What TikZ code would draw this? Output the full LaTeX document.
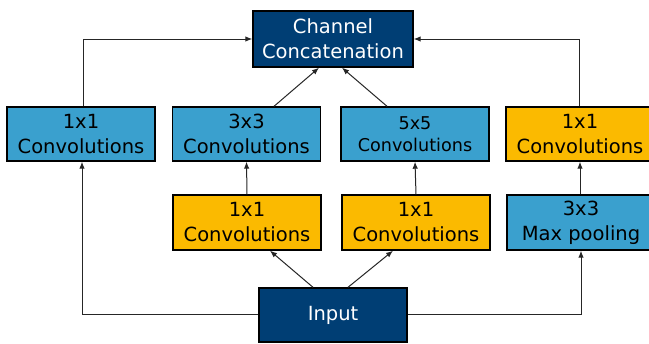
\documentclass[tikz,border=0pt]{standalone}
\usepackage{fontspec}
\setmainfont{DejaVu Sans}
\usetikzlibrary{arrows.meta}
\definecolor{darkb}{RGB}{0,62,116}
\definecolor{lightb}{RGB}{58,160,206}
\definecolor{yel}{RGB}{251,186,0}
\tikzset{
  box/.style={draw=black, line width=1.4bp, inner sep=0pt, align=center,
    minimum width=148bp, minimum height=55bp,
    font=\fontsize{19.5bp}{25bp}\selectfont},
  darkbox/.style={box, fill=darkb, text=white},
  bluebox/.style={box, fill=lightb, text=black},
  yelbox/.style={box, fill=yel, text=black},
  conn/.style={draw=black!85, line width=1bp, -{Latex[length=7bp,width=5.5bp]}}
}
\begin{document}
\begin{tikzpicture}[x=1bp,y=-1bp]
\useasboundingbox (0,0) rectangle (649,343);
\node[darkbox, minimum width=160bp, minimum height=56bp] (chan) at (333,39) {Channel\\Concatenation};
\node[bluebox, minimum height=54bp] (b1) at (81,134) {1x1\\Convolutions};
\node[bluebox, minimum height=54bp] (b2) at (246.5,134) {3x3\\Convolutions};
\node[bluebox, minimum height=54bp, font=\fontsize{17.6bp}{22bp}\selectfont] (b3) at (415,134) {5x5\\Convolutions};
\node[yelbox, minimum height=54bp] (b4) at (580,134) {1x1\\Convolutions};
\node[yelbox] (b5) at (247,222.5) {1x1\\Convolutions};
\node[yelbox] (b6) at (416,222.5) {1x1\\Convolutions};
\node[bluebox] (b7) at (581,222.5) {3x3\\Max pooling};
\node[darkbox, minimum height=54bp] (inp) at (333,315) {Input};
% top connections
\draw[conn] ([xshift=2bp]b1.north) |- (chan.west);
\draw[conn] ([xshift=-1bp]b4.north) |- (chan.east);
\draw[conn] ([xshift=27.5bp]b2.north) -- ([xshift=-14bp]chan.south);
\draw[conn] ([xshift=-28bp]b3.north) -- ([xshift=9bp]chan.south);
% middle
\draw[conn] (b5.north) -- (b2.south);
\draw[conn] (b6.north) -- (b3.south);
\draw[conn] ([xshift=-1bp]b7.north) -- ([xshift=-1bp]b7.north |- b4.south);
% from input
\draw[conn] ([xshift=-20bp]inp.north) -- ([xshift=23bp]b5.south);
\draw[conn] ([xshift=15bp]inp.north) -- ([xshift=-23bp]b6.south);
\draw[conn] ([yshift=1bp]inp.west) -| ([xshift=1bp]b1.south);
\draw[conn] ([yshift=1bp]inp.east) -| (b7.south);
\end{tikzpicture}
\end{document}
